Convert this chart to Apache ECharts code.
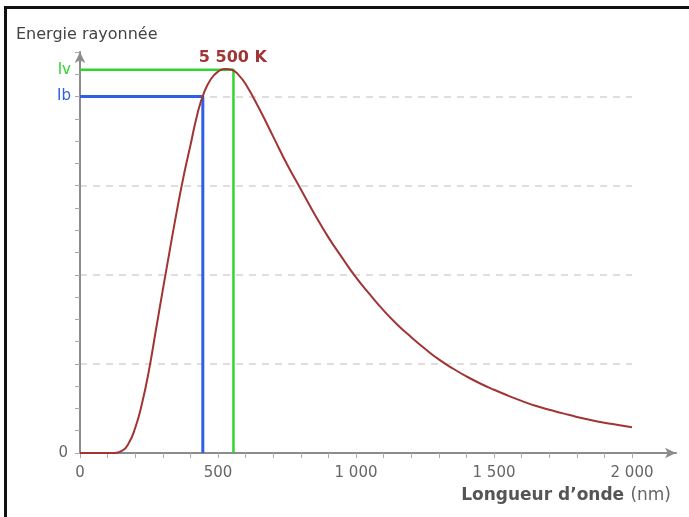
<!DOCTYPE html>
<html>
<head>
<meta charset="utf-8">
<script src="https://cdn.jsdelivr.net/npm/echarts@6/dist/echarts.min.js"></script>
<style>
  html, body { margin: 0; padding: 0; background: #fff; }
  #echart { width: 689px; height: 517px; }
  #frame {
    position: absolute; left: 4px; top: 6px; width: 700px; height: 520px;
    border-left: 3px solid #111; border-top: 3px solid #111; pointer-events: none;
  }
</style>
</head>
<body>
<div id="echart"></div>
<div id="frame"></div>
<script>
// longueur d'onde (nm) et energie rayonnee (unites de quadrillage)
const wavelengths = [0, 100, 125, 150, 175, 200, 225, 250, 275, 300, 325, 350, 375, 400, 425, 450, 475, 500, 525, 550, 575, 600,
  650, 700, 750, 800, 850, 900, 950, 1000, 1050, 1100, 1150, 1200, 1250, 1300, 1350, 1400, 1450, 1500,
  1550, 1600, 1650, 1700, 1750, 1800, 1850, 1900, 1950, 2000]
const energy = [0, 0, 0, 0.02, 0.1, 0.28, 0.56, 0.93, 1.38, 1.83, 2.27, 2.7, 3.1, 3.45, 3.8, 4.05, 4.2, 4.28, 4.31, 4.3, 4.24, 4.14,
  3.86, 3.55, 3.24, 2.96, 2.68, 2.42, 2.19, 1.97, 1.78, 1.6, 1.44, 1.3, 1.17, 1.05, 0.95, 0.86, 0.78, 0.71,
  0.645, 0.585, 0.53, 0.485, 0.445, 0.405, 0.37, 0.34, 0.315, 0.29]
const xTicks = [0, 500, 1000, 1500, 2000]
const peakLabel = '5 500 K'
// Ib (bleu) et Iv (vert)
const ibWavelength = 445
const ibValue = 4.0
const ivWavelength = 556
const ivValue = 4.3

const curveColor = '#a13434'
const blue = '#2f5fe6'
const green = '#2fd62f'
const axisColor = '#8c8c8c'
const font = 'DejaVu Sans'

const myChart = echarts.init(document.getElementById('echart'))

const curveData = wavelengths.map((w, i) => [w, energy[i]])
const peakIndex = energy.indexOf(Math.max(...energy))

const fmt = v => {
  if (xTicks.indexOf(v) < 0) return ''
  return v >= 1000 ? String(v).replace(/(\d)(\d{3})$/, '$1 $2') : String(v)
}

const option = {
  animation: false,
  textStyle: { fontFamily: font },
  title: [
    {
      text: 'Energie rayonnée',
      left: 11,
      top: 22,
      textStyle: { fontFamily: font, fontSize: 16, fontWeight: 'normal', color: '#444' }
    },
    {
      text: '{b|Longueur d\u2019onde} {n|(nm)}',
      right: 13,
      bottom: 7,
      textStyle: {
        rich: {
          b: { fontFamily: font, fontSize: 17, fontWeight: 'bold', color: '#555' },
          n: { fontFamily: font, fontSize: 17, fontWeight: 'normal', color: '#666' }
        }
      }
    }
  ],
  grid: [
    { left: 80, right: 57, top: 52, bottom: 64 },
    { left: 80, right: 13, top: 52, bottom: 64 }
  ],
  xAxis: [
    {
      type: 'value',
      gridIndex: 0,
      min: 0,
      max: 2000,
      interval: 500,
      axisLine: { show: true, lineStyle: { color: axisColor, width: 2 } },
      axisTick: { show: true, length: 5, lineStyle: { color: '#aaa' } },
      minorTick: { show: true, splitNumber: 5, length: 5, lineStyle: { color: '#aaa' } },
      splitLine: { show: false },
      axisLabel: { formatter: fmt, color: '#666', fontFamily: font, fontSize: 15, margin: 13 }
    },
    {
      type: 'value',
      gridIndex: 1,
      min: 0,
      max: 1,
      axisLine: {
        show: true,
        symbol: ['none', 'arrow'],
        symbolSize: [8, 11],
        lineStyle: { color: axisColor, width: 2 }
      },
      axisTick: { show: false },
      axisLabel: { show: false },
      splitLine: { show: false }
    }
  ],
  yAxis: [
    {
      type: 'value',
      gridIndex: 0,
      min: 0,
      max: 4.5,
      interval: 1,
      axisLine: {
        show: true,
        symbol: ['none', 'arrow'],
        symbolSize: [8, 11],
        lineStyle: { color: axisColor, width: 2 }
      },
      axisTick: { show: true, length: 5, lineStyle: { color: '#aaa' } },
      minorTick: { show: true, splitNumber: 4, length: 5, lineStyle: { color: '#aaa' } },
      splitLine: {
        show: true,
        showMinLine: false,
        showMaxLine: false,
        lineStyle: { color: '#d4d4d4', width: 1.5, type: [7, 6] }
      },
      axisLabel: {
        formatter: v => (v === 0 ? '0' : ''),
        color: '#666',
        fontFamily: font,
        fontSize: 15,
        margin: 12
      }
    },
    { type: 'value', gridIndex: 1, min: 0, max: 1, show: false }
  ],
  series: [
    {
      name: 'Ib',
      type: 'line',
      xAxisIndex: 0,
      yAxisIndex: 0,
      data: [[0, ibValue], [ibWavelength, ibValue], [ibWavelength, 0]],
      showSymbol: false,
      lineStyle: { color: blue, width: 3 },
      markPoint: {
        symbol: 'circle',
        symbolSize: 0,
        data: [{ coord: [0, ibValue] }],
        label: { show: true, position: 'left', distance: 9, formatter: 'Ib', color: blue, fontFamily: font, fontSize: 15 }
      }
    },
    {
      name: 'Iv',
      type: 'line',
      xAxisIndex: 0,
      yAxisIndex: 0,
      data: [[0, ivValue], [ivWavelength, ivValue], [ivWavelength, 0]],
      showSymbol: false,
      lineStyle: { color: green, width: 2.5 },
      markPoint: {
        symbol: 'circle',
        symbolSize: 0,
        data: [{ coord: [0, ivValue] }],
        label: { show: true, position: 'left', distance: 9, formatter: 'Iv', color: green, fontFamily: font, fontSize: 15 }
      }
    },
    {
      name: 'Energie',
      type: 'line',
      xAxisIndex: 0,
      yAxisIndex: 0,
      data: curveData,
      smooth: 0.5,
      showSymbol: false,
      lineStyle: { color: curveColor, width: 2 },
      markPoint: {
        symbol: 'circle',
        symbolSize: 0,
        data: [{ coord: curveData[peakIndex] }],
        label: {
          show: true,
          position: 'top',
          distance: 3,
          offset: [8, 0],
          formatter: peakLabel,
          color: curveColor,
          fontFamily: font,
          fontSize: 16,
          fontWeight: 'bold'
        }
      }
    }
  ]
}
myChart.setOption(option)
</script>
</body>
</html>
